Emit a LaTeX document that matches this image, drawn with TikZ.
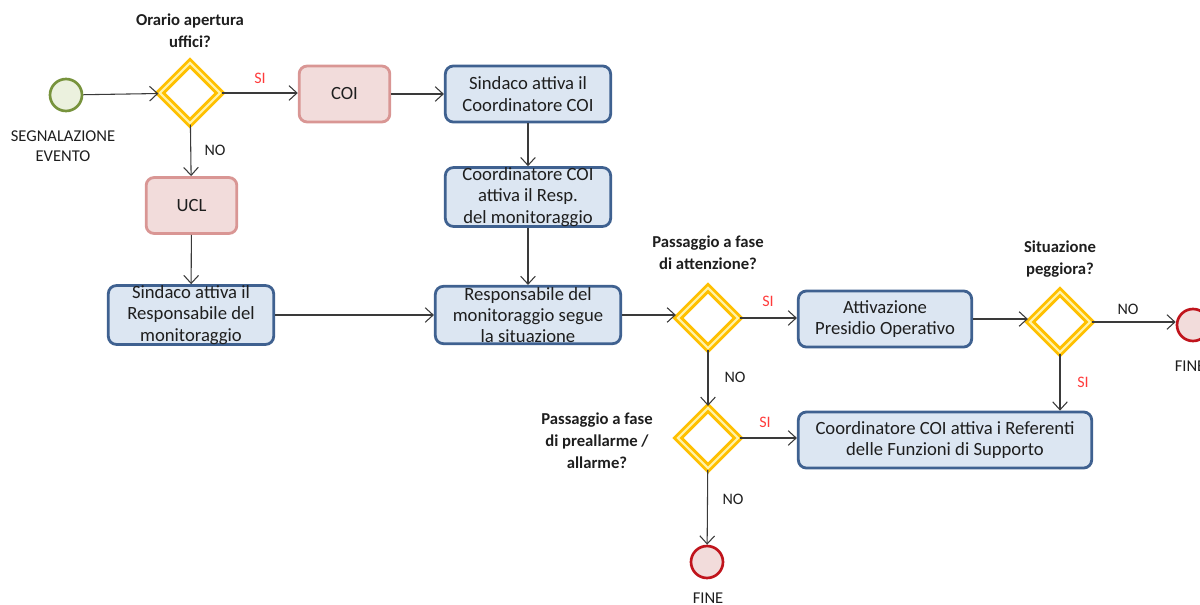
\documentclass[tikz,border=0pt]{standalone}
\usepackage{fontspec}
\setmainfont{Carlito}
\usetikzlibrary{shapes.geometric,arrows.meta}
\definecolor{bfill}{HTML}{DCE6F2}
\definecolor{bline}{HTML}{3F6190}
\definecolor{pfill}{HTML}{F2DCDB}
\definecolor{pline}{HTML}{D99694}
\definecolor{gfill}{HTML}{EBF1DE}
\definecolor{gline}{HTML}{77933C}
\definecolor{rline}{HTML}{C0141C}
\definecolor{gold}{HTML}{FFC000}
\definecolor{goldlight}{HTML}{FFF3A8}
\definecolor{arrc}{HTML}{3A3A3A}
\definecolor{sired}{HTML}{FF3B3B}
\definecolor{txt}{HTML}{1E1E1E}
\begin{document}
\begin{tikzpicture}[x=0.75pt,y=-0.75pt,
  boxtext/.style={align=center,inner xsep=2pt,inner ysep=0pt,text=txt,font=\fontsize{14}{16}\selectfont},
  bluebox/.style={boxtext,draw=bline,fill=bfill,line width=2.1pt,rounded corners=6pt},
  pinkbox/.style={boxtext,draw=pline,fill=pfill,line width=2.1pt,rounded corners=6pt,minimum width=68pt,minimum height=42pt},
  gate/.style={diamond,aspect=1,draw=gold,line width=2.2pt,double=goldlight,double distance=1.6pt,minimum width=46pt,minimum height=46pt,inner sep=0pt},
  startev/.style={circle,draw=gline,fill=gfill,line width=2pt,minimum size=24pt,inner sep=0pt},
  endev/.style={circle,draw=rline,fill=pfill,line width=2pt,minimum size=24pt,inner sep=0pt},
  qlabel/.style={align=center,text=txt,font=\fontsize{12.5}{16.5}\selectfont\bfseries,inner sep=0pt},
  evlabel/.style={align=center,text=txt,font=\fontsize{12.4}{15}\selectfont,inner sep=0pt},
  yes/.style={text=sired,font=\fontsize{12}{14}\selectfont,inner sep=0pt},
  no/.style={text=txt,font=\fontsize{12}{14}\selectfont,inner sep=0pt},
  arr/.style={draw=arrc,line width=0.8pt,-{Straight Barb[length=6pt,width=11pt]}}
]
\useasboundingbox (0,0) rectangle (1200,604);

% events
\node[startev] (start) at (66,95) {};
\node[evlabel] (startlbl) at (63,146) {SEGNALAZIONE\\EVENTO};
\node[endev] (endA) at (707,562) {};
\node[evlabel] (endAlbl) at (708,598) {FINE};
\node[endev] (endB) at (1193,325) {};
\node[evlabel] (endBlbl) at (1190,366) {FINE};

% gateways
\node[gate] (D1) at (190,93) {};
\node[qlabel] (L1) at (190,31) {Orario apertura\\uffici?};
\node[gate] (D2) at (708,318) {};
\node[qlabel] (L2) at (708,253) {Passaggio a fase\\di attenzione?};
\node[gate] (D3) at (1060,322) {};
\node[qlabel] (L3) at (1060,259) {Situazione\\peggiora?};
\node[gate] (D4) at (708,438) {};
\node[qlabel] (L4) at (597,441) {Passaggio a fase\\di preallarme /\\allarme?};

% tasks
\node[pinkbox] (COI) at (344.5,94) {COI};
\node[pinkbox] (UCL) at (191.5,205.5) {UCL};
\node[bluebox,minimum width=124pt,minimum height=42pt] (S1) at (528,94) {Sindaco attiva il\\Coordinatore COI};
\node[bluebox,minimum width=124pt,minimum height=43pt] (C1) at (528,197) {Coordinatore COI\\attiva il Resp.\\del monitoraggio};
\node[bluebox,minimum width=139pt,minimum height=43pt] (R1) at (528,315) {Responsabile del\\monitoraggio segue\\la situazione};
\node[bluebox,minimum width=124pt,minimum height=43pt] (S2) at (191,315) {Sindaco attiva il\\Responsabile del\\monitoraggio};
\node[bluebox,minimum width=130pt,minimum height=42pt] (A1) at (885,319) {Attivazione\\Presidio Operativo};
\node[bluebox,minimum width=220pt,minimum height=42pt] (CR) at (945,440) {Coordinatore COI attiva i Referenti\\delle Funzioni di Supporto};

% connectors
\draw[arr] (start) -- (D1);
\draw[arr] (D1.east) -- (D1.east -| COI.west);
\draw[arr] (D1) -- (UCL);
\draw[arr] (COI) -- (S1);
\draw[arr] (S1) -- (C1);
\draw[arr] (C1) -- (R1);
\draw[arr] (UCL) -- (S2);
\draw[arr] (S2) -- (R1);
\draw[arr] (R1.east) -- (R1.east -| D2.west);
\draw[arr] (D2.east) -- (D2.east -| A1.west);
\draw[arr] (A1.east) -- (A1.east -| D3.west);
\draw[arr] (D3.east) -- (D3.east -| endB.west);
\draw[arr] (D3.south) -- (D3.south |- CR.north);
\draw[arr] (D2) -- (D4);
\draw[arr] (D4.east) -- (D4.east -| CR.west);
\draw[arr] (D4) -- (endA);

% branch labels
\node[yes] (y1) at (260,78) {SI};
\node[no] (n1) at (215,150) {NO};
\node[yes] (y2) at (768,301) {SI};
\node[no] (n2) at (735,377) {NO};
\node[yes] (y3) at (1083,382) {SI};
\node[no] (n3) at (1128,309) {NO};
\node[yes] (y4) at (765,422) {SI};
\node[no] (n4) at (733,499) {NO};
\end{tikzpicture}
\end{document}
